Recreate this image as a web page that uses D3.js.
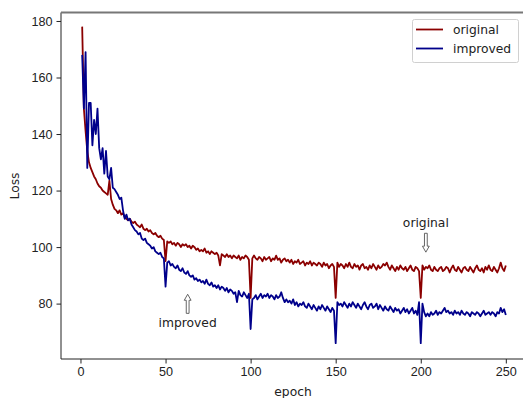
<!DOCTYPE html>
<html>
<head>
    <title>Loss per epoch</title>
    <script src="https://d3js.org/d3.v7.min.js"></script>
    <style>
        body { margin: 0; background: #fff; }
        svg { display: block; font-family: "DejaVu Sans", sans-serif; }
        .axis text { font-size: 12.6px; fill: #222; }
        .axis path, .axis line { stroke: #222; stroke-width: 1; }
        .series { fill: none; stroke-width: 1.8; stroke-linejoin: round; }
        .label { font-size: 12.3px; fill: #222; }
    </style>
</head>
<body>
    <svg width="523" height="398"></svg>

    <script>
        // loss values, epoch 1..250
        const original = [
            178, 149, 141, 134, 130, 128, 126.5, 125, 124, 122.5,
            121.5, 121, 120, 119.5, 119, 118.5, 123.5, 117, 115, 113.5,
            113, 112, 113, 111.5, 112, 110.5, 110, 109.5, 110, 109,
            108.5, 109, 108, 107.5, 107, 108, 106.5, 106, 106.5, 105.5,
            106, 105, 104.5, 105, 104, 103.5, 104, 103, 102.5, 95,
            102, 101.5, 102, 101, 101.5, 100.5, 101.5, 101, 100, 101,
            100.5, 101, 100, 100.5, 99.5, 100.5, 100, 99, 99.5, 98.5,
            99, 98.5, 99.5, 98, 98.5, 97.5, 98.5, 98, 97.5, 98,
            97, 93.5, 97.5, 97, 96.5, 97.5, 96.5, 97, 96, 97,
            96.5, 96, 97, 95.5, 96.5, 96, 97, 96.5, 95.5, 82,
            96, 97, 96, 95.5, 96.5, 96, 95, 96.5, 95.5, 96,
            96.5, 95, 96, 95.5, 97, 95.5, 96, 94.5, 95.5, 96,
            95, 95.5, 94.5, 95.5, 94, 95, 94.5, 95.5, 94, 94.5,
            95, 93.5, 94.5, 94, 95, 93.5, 94.5, 94, 93.5, 94.5,
            94, 93, 94.5, 93.5, 94, 92.5, 93.5, 94, 93, 82,
            94.5, 93, 94, 93.5, 92.5, 94, 93, 94.5, 93, 92.5,
            94, 93, 93.5, 92, 93.5, 94, 92.5, 93, 92, 93.5,
            92.5, 94, 93, 92, 93.5, 92.5, 93, 94, 93.5, 94.5,
            93, 92, 93.5, 92.5, 91.5, 93, 92, 93.5, 92.5, 92,
            93, 91.5, 92.5, 93.5, 92, 91.5, 93, 92.5, 91.5, 82,
            93.5, 92, 93, 92.5, 93.5, 92, 91.5, 93, 92, 91.5,
            92.5, 93, 91.5, 92, 93, 92.5, 91, 92.5, 93.5, 92,
            91.5, 93, 92, 91, 92.5, 93, 92, 91.5, 93, 92,
            91, 92.5, 93.5, 92, 91.5, 92.5, 91, 93, 92, 93.5,
            92, 91.5, 93, 92, 91, 92.5, 94.5, 92.5, 91.5, 93.5
        ];

        const improved = [
            168, 149, 169, 128, 151, 151, 136, 145, 140, 149,
            135, 131, 135, 126, 134, 125, 124, 128, 121, 120.5,
            119.5, 118.5, 117, 117.5, 113, 110, 111.5, 109.5, 110, 108,
            107, 106, 105.5, 104.5, 105, 103, 102.5, 103, 101.5, 101,
            100.5, 99.5, 100, 98.5, 98, 97.5, 98, 96.5, 96, 86,
            94.5, 95, 93.5, 94, 93, 92.5, 93.5, 92, 91.5, 92.5,
            91, 90.5, 91.5, 90, 89.5, 90, 88.5, 89, 88, 88.5,
            87.5, 88, 87, 88.5, 87, 86.5, 87.5, 86, 86.5, 85.5,
            86.5, 85, 86, 85.5, 84.5, 85.5, 84, 85, 84.5, 83.5,
            84, 80.5, 84.5, 83, 82.5, 84, 83, 82, 83.5, 71,
            81.5, 82, 83, 81.5, 82.5, 83.5, 82, 83, 82.5, 83.5,
            82, 83, 82.5, 81.5, 83, 82, 82.5, 84, 82, 80.5,
            81.5, 80.5, 81, 80, 81.5, 79.5, 80.5, 79, 80, 79.5,
            80.5, 79, 78.5, 80, 79, 78, 79.5, 78.5, 77.5, 79,
            78, 79.5, 78.5, 77.5, 79, 78, 77, 78.5, 77.5, 66,
            80.5, 79.5, 80, 79, 80.5, 79.5, 78.5, 80, 79, 80.5,
            79.5, 78.5, 80, 79, 78, 79.5, 80.5, 79, 78, 79.5,
            80, 78.5, 79, 80, 78, 79.5, 78.5, 77.5, 79, 78,
            77.5, 79, 78, 77, 78.5, 77.5, 78, 76.5, 77.5, 78.5,
            77, 78, 76.5, 77.5, 78.5, 76.5, 77.5, 76, 80.5, 66,
            80, 77, 75.5, 76.5, 75.5, 77, 76, 76.5, 77.5, 76,
            77, 76.5, 77.5, 78.5, 77, 77.5, 76.5, 77, 76, 77.5,
            76.5, 77, 76, 77.5, 76.5, 76, 77, 76.5, 75.5, 77,
            76.5, 76, 77, 76.5, 75.5, 76.5, 77.5, 76, 76.5, 77,
            76, 77, 76.5, 75.5, 77, 76.5, 78.5, 77, 78, 76
        ];

        const seriesNames = ["original", "improved"];
        const seriesColors = ["#8b0000", "#00008b"];
        const xTicks = [0, 50, 100, 150, 200, 250];
        const yTicks = [80, 100, 120, 140, 160, 180];

        // annotations: arrow tip (epoch, loss) and label position
        const noteLabels = ["original", "improved"];
        const noteTip = [[203, 98.2], [63, 83.3]];
        const noteText = [[203, 107.0], [63, 71.6]];

        const svg = d3.select("svg");

        const x = d3.scaleLinear().domain([-11.45, 262.45]).range([61, 527]);
        const y = d3.scaleLinear().domain([60.4, 183.0]).range([359, 12.5]);

        const epochs = d3.range(1, original.length + 1);

        // axes
        svg.append("g")
            .attr("class", "axis")
            .attr("transform", "translate(0,359)")
            .call(d3.axisBottom(x).tickValues(xTicks).tickSize(4.5).tickPadding(4).tickSizeOuter(0))
            .call(g => g.select(".domain").attr("d", "M61,0H527"));

        svg.append("g")
            .attr("class", "axis")
            .attr("transform", "translate(61,0)")
            .call(d3.axisLeft(y).tickValues(yTicks).tickSize(4.5).tickPadding(4).tickSizeOuter(0))
            .call(g => g.select(".domain").attr("d", "M0,359V12.5"));

        // top spine (drawn grey in the reference)
        svg.append("line")
            .attr("x1", 61).attr("x2", 523)
            .attr("y1", 12.5).attr("y2", 12.5)
            .attr("stroke", "#777").attr("stroke-width", 2);

        svg.append("text")
            .attr("class", "label")
            .attr("transform", "translate(19,186) rotate(-90)")
            .attr("text-anchor", "middle")
            .text("Loss");

        svg.append("text")
            .attr("class", "label")
            .attr("x", 293).attr("y", 396)
            .attr("text-anchor", "middle")
            .text("epoch");

        // lines
        const line = d3.line()
            .x((d, i) => x(epochs[i]))
            .y(d => y(d));

        [original, improved].forEach((vals, i) => {
            svg.append("path")
                .attr("class", "series")
                .attr("stroke", seriesColors[i])
                .attr("d", line(vals));
        });

        // annotations with hollow arrows
        noteLabels.forEach((lab, i) => {
            const tx = x(noteTip[i][0]), ty = y(noteTip[i][1]);
            const lx = x(noteText[i][0]), ly = y(noteText[i][1]);
            const dir = ly < ty ? 1 : -1; // 1 = arrow points down
            const startY = ly < ty ? ly + 6 : ly - 14;
            const len = Math.abs(ty - startY);
            const head = 6, sw = 1.4, hw = 3.4;
            const pts = [
                [-sw, 0], [sw, 0], [sw, len - head], [hw, len - head],
                [0, len], [-hw, len - head], [-sw, len - head]
            ].map(p => [tx + p[0], startY + dir * p[1]]);
            svg.append("path")
                .attr("d", "M" + pts.map(p => p.join(",")).join("L") + "Z")
                .attr("fill", "#fff")
                .attr("stroke", "#555")
                .attr("stroke-width", 0.9);
            svg.append("text")
                .attr("class", "label")
                .attr("x", lx).attr("y", ly)
                .attr("text-anchor", "middle")
                .text(lab);
        });

        // legend
        const legend = svg.append("g");
        legend.append("rect")
            .attr("x", 412.5).attr("y", 19.5)
            .attr("width", 106).attr("height", 43)
            .attr("rx", 2)
            .attr("fill", "#fff")
            .attr("stroke", "#d0d0d0");
        seriesNames.forEach((name, i) => {
            const ly = 29.5 + i * 19;
            legend.append("line")
                .attr("x1", 416).attr("x2", 443)
                .attr("y1", ly).attr("y2", ly)
                .attr("stroke", seriesColors[i])
                .attr("stroke-width", 1.8);
            legend.append("text")
                .attr("class", "label")
                .attr("x", 453).attr("y", ly + 4.5)
                .text(name);
        });
    </script>
</body>
</html>
